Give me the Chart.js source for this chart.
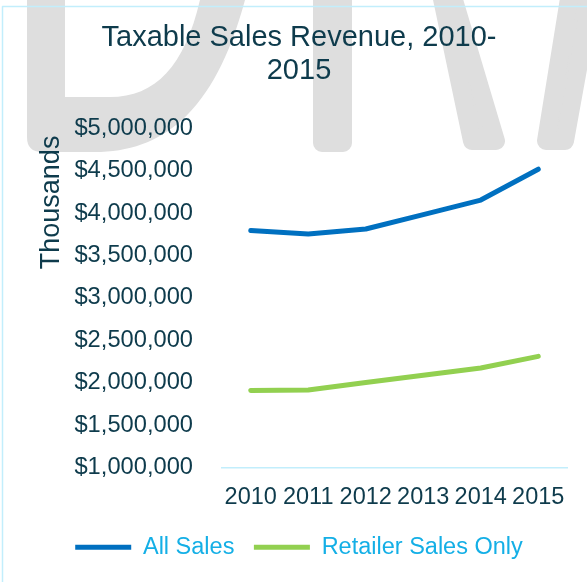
<!DOCTYPE html>
<html>
<head>
<meta charset="utf-8">
<script src="https://cdn.jsdelivr.net/npm/chart.js@4.4.1/dist/chart.umd.min.js"></script>
<style>
    html, body { margin: 0; padding: 0; background: #fff; overflow: hidden; }
    #contenedor { position: relative; width: 587px; height: 582px; }
</style>
</head>
<body>
<div id="contenedor"><canvas id="graficoVentas"></canvas></div>
<script>
// Datos (miles de dolares)
const anios            = ['2010', '2011', '2012', '2013', '2014', '2015'];
const ventasTotales    = [3794000, 3752000, 3811000, 3980000, 4152000, 4516000];
const ventasMinoristas = [1907000, 1914000, 2001000, 2088000, 2173000, 2310000];
const nombresSeries    = ['All Sales', 'Retailer Sales Only'];
const tituloGrafico    = ['Taxable Sales Revenue, 2010-', '2015'];
const ejeYMin  = 1000000;
const ejeYMax  = 5000000;
const ejeYPaso = 500000;

const colorTexto   = '#0E3B4C';
const colorLeyenda = '#14AFE6';
const colorCian    = '#C2EEFC';
const fuente       = "'Liberation Sans', Arial, sans-serif";

// — Marca de agua gris y borde celeste detras del grafico —
const fondoMarca = {
    id: 'fondoMarca',
    beforeDraw(chart) {
        const ctx = chart.ctx;
        ctx.save();
        ctx.fillStyle = '#fff';
        ctx.fillRect(0, 0, chart.width, chart.height);

        ctx.fillStyle   = '#DEDEDE';
        ctx.strokeStyle = '#DEDEDE';

        // letra "D"
        ctx.beginPath();
        ctx.moveTo(27, -20);
        ctx.lineTo(27, 137);
        ctx.quadraticCurveTo(27, 152, 42, 152);
        ctx.lineTo(95, 152);
        ctx.bezierCurveTo(165, 152, 220, 110, 250, -20);
        ctx.lineTo(204, -20);
        ctx.bezierCurveTo(190, 60, 160, 97, 110, 97);
        ctx.lineTo(65, 97);
        ctx.lineTo(65, -20);
        ctx.closePath();
        ctx.fill();

        // trazos rectos con esquinas redondeadas
        const trazos = [
            [[322, -20], [343, -20], [343, 143], [322, 143]],
            [[438, -20], [448, -20], [496, 141], [472, 141]],
            [[572, -20], [594, -20], [565, 141], [546, 141]]
        ];
        ctx.lineWidth = 18;
        ctx.lineJoin  = 'round';
        trazos.forEach(p => {
            ctx.beginPath();
            ctx.moveTo(p[0][0], p[0][1]);
            for (let i = 1; i < p.length; i++) ctx.lineTo(p[i][0], p[i][1]);
            ctx.closePath();
            ctx.fill();
            ctx.stroke();
        });

        // borde del area
        ctx.strokeStyle = colorCian;
        ctx.lineWidth = 1.5;
        ctx.strokeRect(2.5, 6.5, chart.width + 20, chart.height + 20);
        ctx.restore();
    }
};

let chartVentas = null;

function dibujarGraficoVentas() {
    let ctx = document.getElementById('graficoVentas').getContext('2d');

    if (chartVentas) { chartVentas.destroy(); }

    chartVentas = new Chart(ctx, {
        type: 'line',
        data: {
            labels: anios,
            datasets: [
                {
                    label: nombresSeries[0],
                    data: ventasTotales,
                    borderColor: '#0070C0',
                    backgroundColor: '#0070C0',
                    borderWidth: 5,
                    borderCapStyle: 'round',
                    borderJoinStyle: 'round',
                    pointRadius: 0,
                    tension: 0
                },
                {
                    label: nombresSeries[1],
                    data: ventasMinoristas,
                    borderColor: '#92D050',
                    backgroundColor: '#92D050',
                    borderWidth: 5,
                    borderCapStyle: 'round',
                    borderJoinStyle: 'round',
                    pointRadius: 0,
                    tension: 0
                }
            ]
        },
        options: {
            responsive: true,
            maintainAspectRatio: false,
            animation: false,
            layout: { padding: { left: 31, right: 20, top: 0, bottom: 13 } },
            plugins: {
                title: {
                    display: true,
                    text: tituloGrafico,
                    color: colorTexto,
                    font: { family: fuente, size: 29, weight: 'normal', lineHeight: 1.14 },
                    padding: { top: 21, bottom: 41 }
                },
                legend: {
                    position: 'bottom',
                    labels: {
                        color: colorLeyenda,
                        font: { family: fuente, size: 23.5 },
                        usePointStyle: true,
                        pointStyle: 'line',
                        pointStyleWidth: 56,
                        padding: 19.5
                    }
                },
                tooltip: { enabled: false }
            },
            scales: {
                x: {
                    offset: true,
                    grid: { display: false, drawTicks: false },
                    border: { display: true, color: colorCian, width: 1.5 },
                    ticks: {
                        color: colorTexto,
                        font: { family: fuente, size: 23.5 },
                        padding: 15.7,
                        maxRotation: 0,
                        autoSkip: false
                    },
                    // alto fijo del eje para dejar el hueco hasta la leyenda
                    afterFit(scale) { scale.height = 48.5; }
                },
                y: {
                    min: ejeYMin,
                    max: ejeYMax,
                    grid: { display: false, drawTicks: false },
                    border: { display: false },
                    ticks: {
                        stepSize: ejeYPaso,
                        color: colorTexto,
                        font: { family: fuente, size: 23.7 },
                        padding: 29,
                        callback: v => '$' + v.toLocaleString('en-US')
                    },
                    title: {
                        display: true,
                        text: 'Thousands ',
                        align: 'end',
                        color: colorTexto,
                        font: { family: fuente, size: 27 },
                        padding: { top: 4.8, bottom: 5 }
                    },
                    afterFit(scale) { scale.width = 191; }
                }
            }
        },
        plugins: [fondoMarca]
    });
}

document.addEventListener('DOMContentLoaded', () => {
    dibujarGraficoVentas();
});
</script>
</body>
</html>
